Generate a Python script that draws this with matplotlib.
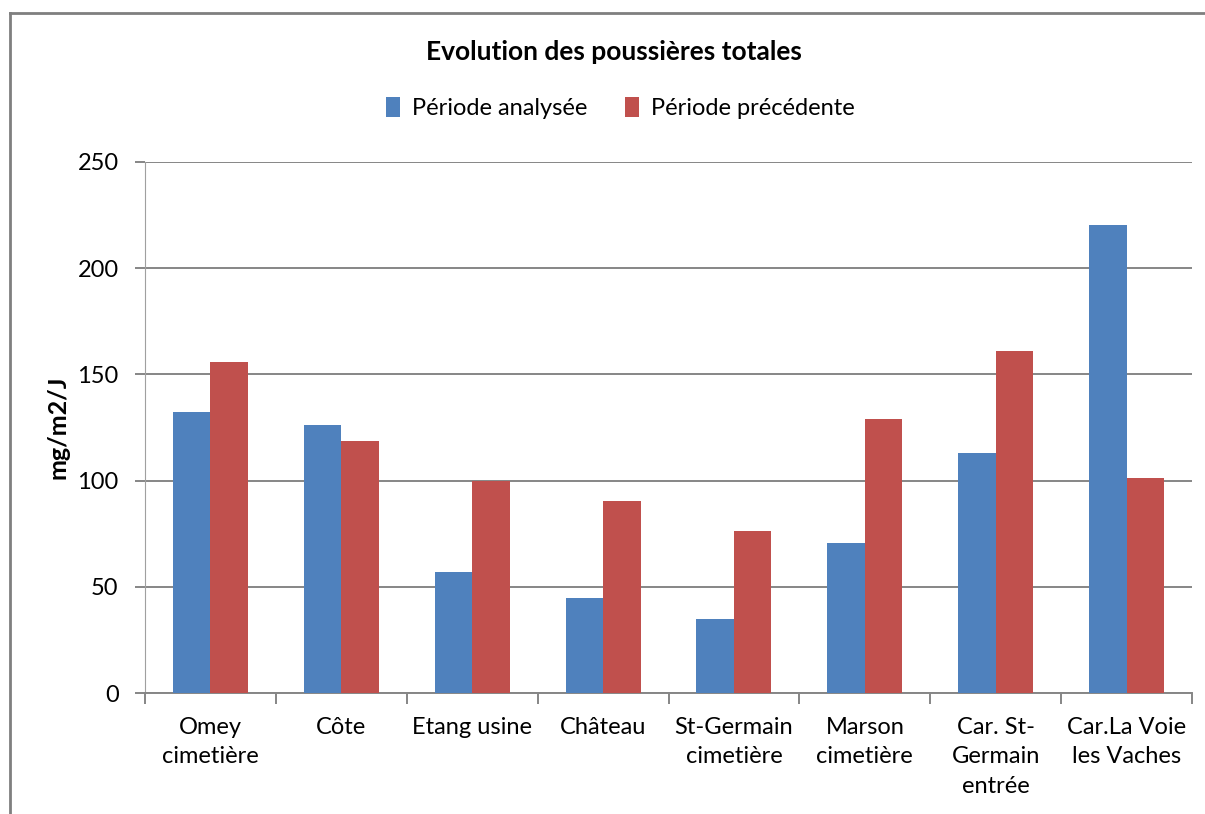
import numpy as np
import matplotlib.pyplot as plt
from matplotlib.lines import Line2D

plt.rcParams['font.family'] = ['Lato', 'DejaVu Sans']

sites = ["Omey\ncimetière", "Côte", "Etang usine", "Château", "St-Germain\ncimetière",
         "Marson\ncimetière", "Car. St-\nGermain\nentrée", "Car.La Voie\nles Vaches"]
analysee = [132.5, 126, 57, 44.5, 35, 70.5, 113, 220.5]
precedente = [155.8, 118.5, 99.8, 90.5, 76.5, 129, 161, 101.2]
series_names = ["Période analysée", "Période précédente"]

blue = "#4F81BD"
red = "#C0504D"

fig = plt.figure(figsize=(12.05, 8.14), dpi=100)
ax = fig.add_axes([145 / 1205, 121 / 814, 1047 / 1205, 531 / 814])

x = np.arange(len(sites))
w = 0.287
ax.bar(x - w / 2, analysee, w, color=blue, label=series_names[0], zorder=3)
ax.bar(x + w / 2, precedente, w, color=red, label=series_names[1], zorder=3)

ax.set_xlim(-0.5, len(sites) - 0.5)
ax.set_ylim(0, 250)
ax.set_yticks([0, 50, 100, 150, 200, 250])
ax.yaxis.grid(True, color="#868686", linewidth=1.4, zorder=0)
ax.set_axisbelow(True)

ax.set_xticks(x)
ax.set_xticklabels(sites, fontsize=17, linespacing=1.5)
ax.tick_params(axis="x", length=0, pad=17)
ax.set_xticks(np.arange(-0.5, len(sites)), minor=True)
ax.tick_params(axis="x", which="minor", length=8, color="#868686", width=1.4)
ax.tick_params(axis="y", length=7, color="#868686", width=1.4, labelsize=17, pad=12)

for s in ["top", "right"]:
    ax.spines[s].set_visible(False)
ax.spines["left"].set_color("#A0A0A0")
ax.spines["bottom"].set_color("#868686")
ax.spines["bottom"].set_linewidth(1.4)

ax.set_ylabel("mg/m2/J", fontsize=18, fontweight="bold", labelpad=6)

fig.text(614 / 1205, 1 - 52 / 814, "Evolution des poussières totales",
         ha="center", va="center", fontsize=19, fontweight="bold")

fig.legend(loc="center", bbox_to_anchor=(620 / 1205, 1 - 108 / 814), ncol=2,
           frameon=False, fontsize=17, handlelength=0.6, handleheight=0.9,
           columnspacing=1.6, handletextpad=0.5)

# chart frame
fig.add_artist(Line2D([10 / 1205, 10 / 1205], [0, 1 - 13 / 814], transform=fig.transFigure,
                      color="#7F7F7F", linewidth=2))
fig.add_artist(Line2D([10 / 1205, 1], [1 - 13 / 814, 1 - 13 / 814], transform=fig.transFigure,
                      color="#7F7F7F", linewidth=2))

fig.savefig("out.png", dpi=100)
